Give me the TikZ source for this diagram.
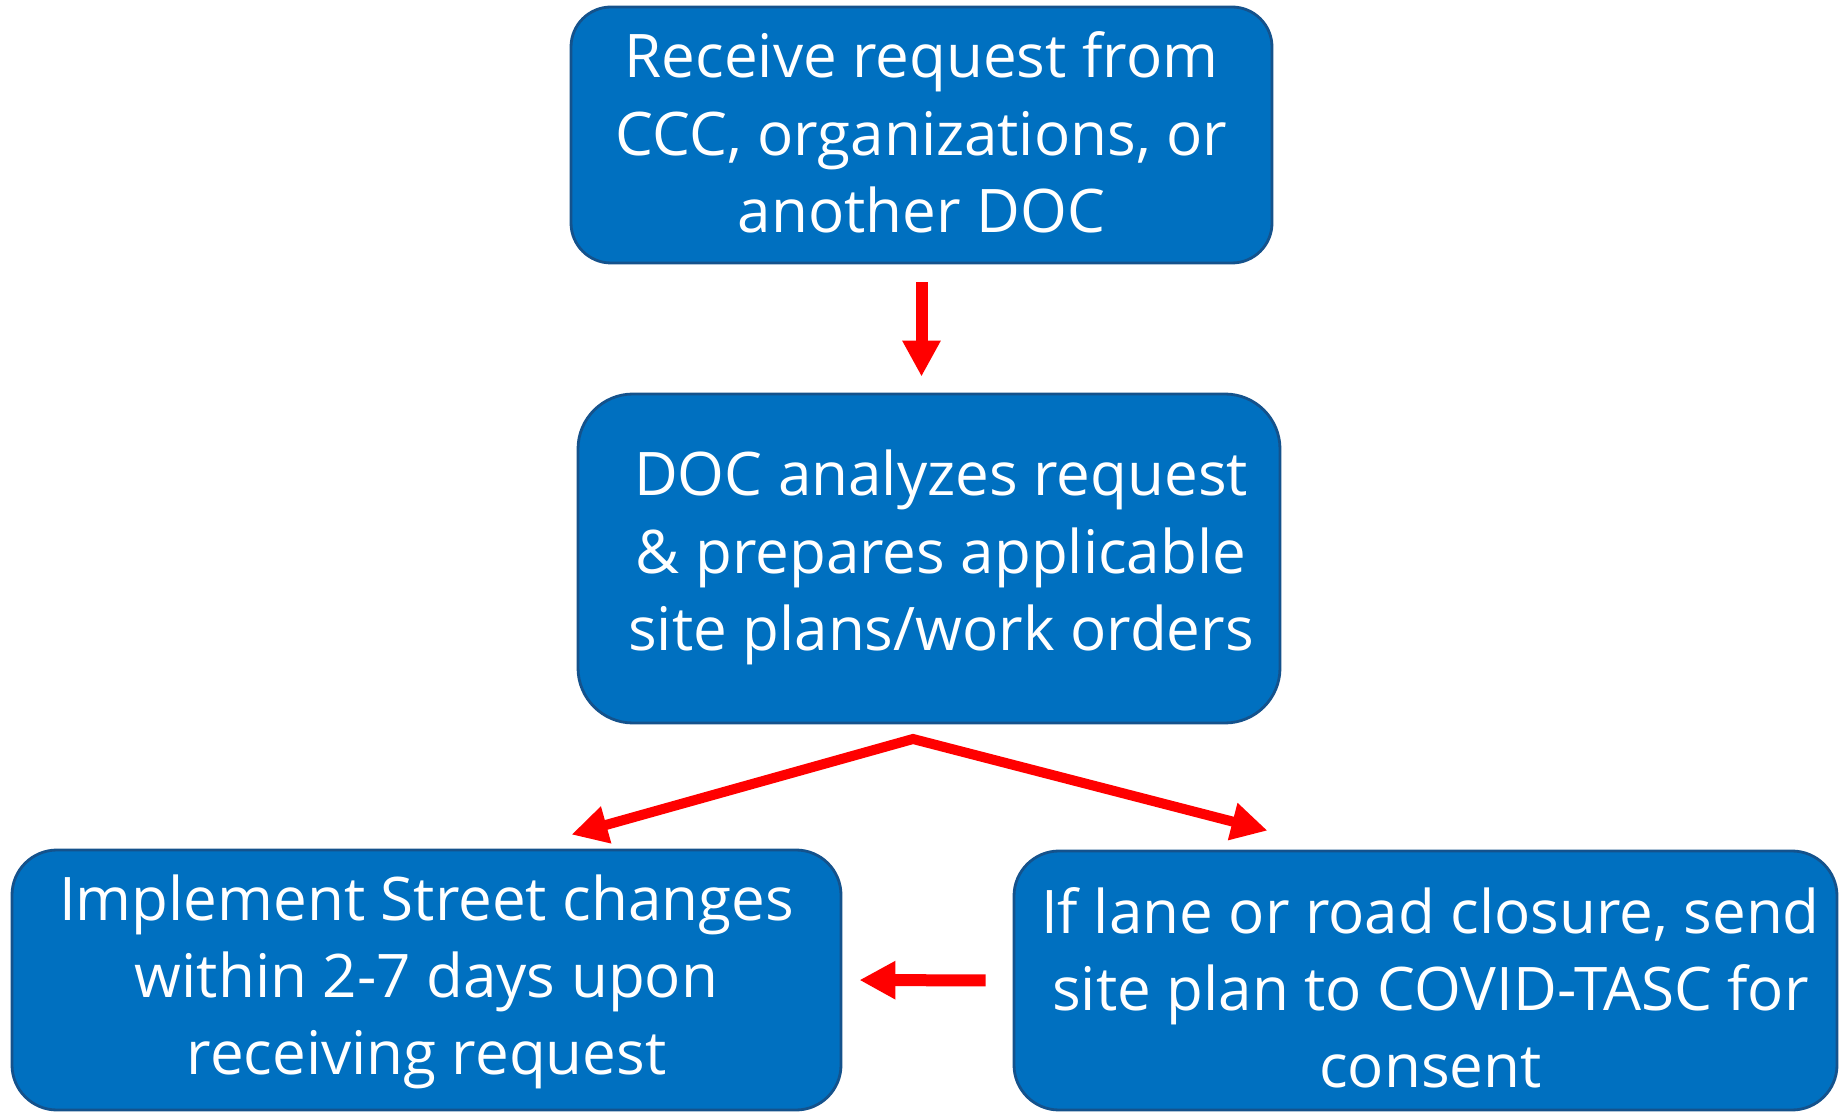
\documentclass[tikz,border=0pt]{standalone}
\usepackage{fontspec}
\setmainfont{Open Sans}
\usepackage{tikz}
\usetikzlibrary{arrows.meta}
\usetikzlibrary{positioning}

\definecolor{boxblue}{RGB}{0,112,192}
\definecolor{boxedge}{RGB}{20,82,140}

\begin{document}
\begin{tikzpicture}[
    stepbox/.style={draw=boxedge, line width=0.8pt, fill=boxblue, rounded corners=0.45cm,
      text=white, font=\fontsize{17.1}{22}\selectfont, text height=0.45cm},
    flow/.style={draw=red, line width=0.12cm, -{Triangle[length=0.36cm, width=0.36cm]}},
  ]
    \useasboundingbox (0,0) rectangle (18.39,11.11);

    \node(receive) [stepbox, minimum width=7.01cm, minimum height=2.56cm, rounded corners=0.4cm, text depth=1.59cm] at (9.215, 9.76) {
      \begin{tabular}[t]{@{}c@{}}
        Receive request from \\
        CCC, organizations, or \\
        another DOC
      \end{tabular}
    };

    \node(analyze) [stepbox, minimum width=7.02cm, minimum height=3.29cm, rounded corners=0.55cm, text depth=1.70cm] at (9.29, 5.525) {
      \begin{tabular}[t]{@{\hspace{0.24cm}}c@{}}
        DOC analyzes request \\
        \& prepares applicable \\
        site plans/work orders
      \end{tabular}
    };
    \draw[flow, shorten <= 0.18cm, shorten >= 0.16cm] (receive.south) -- (receive.south |- analyze.north);

    \node(implement) [stepbox, minimum width=8.29cm, minimum height=2.6cm, text depth=1.65cm] at (4.265, 1.31) {
      \begin{tabular}[t]{@{}c@{}}
        Implement Street changes \\
        within 2-7 days upon \\
        receiving request
      \end{tabular}
    };

    \node(closure) [stepbox, minimum width=8.23cm, minimum height=2.59cm, text depth=1.40cm] at (14.255, 1.305) {
      \begin{tabular}[t]{@{\hspace{0.1cm}}c@{}}
        If lane or road closure, send \\
        site plan to COVID-TASC for \\
        consent
      \end{tabular}
    };

    % split point below the analysis box
    \coordinate (split) at (9.13, 3.72);
    \draw[flow, line width=0.1cm, {Triangle[length=0.36cm, width=0.36cm]}-{Triangle[length=0.36cm, width=0.36cm]}]
      ([xshift=1.45cm, yshift=0.14cm]implement.north) -- (split) -- ([xshift=-1.58cm, yshift=0.19cm]closure.north);

    \draw[flow, shorten <= 0.27cm, shorten >= 0.17cm] (closure.west) -- (implement.east);
  \end{tikzpicture}
\end{document}
